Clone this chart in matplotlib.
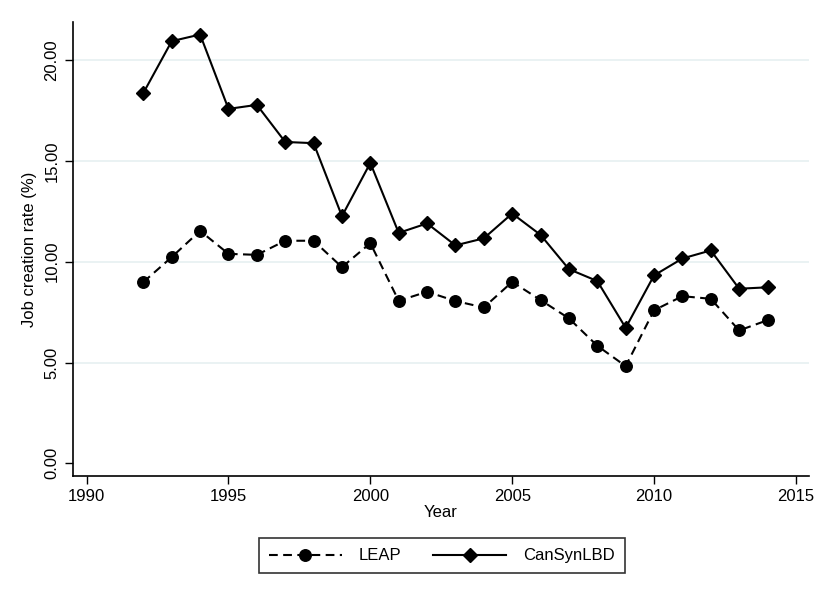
import matplotlib
matplotlib.use('Agg')
import matplotlib.pyplot as plt

plt.rcParams['font.family'] = ['Liberation Sans', 'DejaVu Sans']

# === Data ===
years = list(range(1992, 2015))
leap = [8.99, 10.23, 11.53, 10.39, 10.34, 11.04, 11.04, 9.73, 10.92,
        8.06, 8.51, 8.05, 7.73, 9.00, 8.10, 7.19, 5.83, 4.82,
        7.59, 8.29, 8.16, 6.59, 7.10]
cansyn = [18.37, 20.94, 21.27, 17.58, 17.78, 15.94, 15.88, 12.26, 14.90,
          11.43, 11.90, 10.81, 11.16, 12.39, 11.33, 9.63, 9.04, 6.72,
          9.32, 10.16, 10.56, 8.66, 8.73]
xticks = [1990, 1995, 2000, 2005, 2010, 2015]
yticks = [0, 5, 10, 15, 20]

fs = 12

fig = plt.figure(figsize=(8.3, 6.04), dpi=100)
ax = fig.add_axes([0.0883, 0.2119, 0.886, 0.752])

for y in yticks[1:]:
    ax.axhline(y, color='#eaf2f3', lw=1.4, zorder=0)

ax.plot(years, leap, color='black', lw=1.5, ls=(0, (4.2, 2.6)),
        marker='o', ms=8.3, label='LEAP')
ax.plot(years, cansyn, color='black', lw=1.5, ls='-',
        marker='D', ms=7.2, label='CanSynLBD')

ax.set_xlim(1989.53, 2015.45)
ax.set_ylim(-0.63, 21.9)
ax.set_xticks(xticks)
ax.set_yticks(yticks)
ax.set_yticklabels([f'{v:.2f}' for v in yticks], rotation=90, va='center')
ax.tick_params(direction='out', length=6, width=1, labelsize=fs, pad=3)
ax.tick_params(axis='y', pad=4)

for s in ['top', 'right']:
    ax.spines[s].set_visible(False)
for s in ['left', 'bottom']:
    ax.spines[s].set_linewidth(1.2)

ax.set_xlabel('Year', fontsize=fs, labelpad=1)
ax.set_ylabel('Job creation rate (%)', fontsize=fs, labelpad=5)

leg = fig.legend(loc='center', bbox_to_anchor=(0.532, 0.0795), ncol=2,
                 fontsize=fs, frameon=True, fancybox=False,
                 handlelength=4.4, handletextpad=1.0, columnspacing=1.9,
                 borderpad=0.6)
leg.get_frame().set_edgecolor('black')
leg.get_frame().set_linewidth(1.2)

fig.savefig('out.png', dpi=100)
